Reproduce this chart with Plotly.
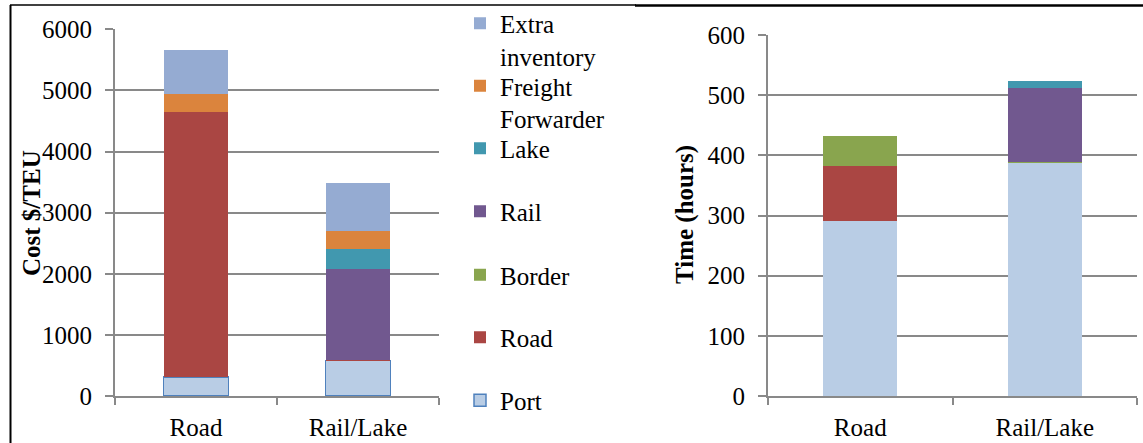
import plotly.graph_objects as go

categories = ["Road", "Rail/Lake"]

# Cost $/TEU (stack order bottom -> top)
cost_port = [315, 580]
cost_road = [4325, 8]
cost_border = [0, 0]
cost_rail = [0, 1498]
cost_lake = [0, 316]
cost_ff = [306, 295]
cost_extra = [709, 791]

# Time (hours)
time_port = [291, 388]
time_road = [91, 0]
time_border = [50, 1.5]
time_rail = [0, 123]
time_lake = [0, 11]

series_names = ["Port", "Road", "Border", "Rail", "Lake", "Freight Forwarder", "Extra inventory"]
legend_labels = ["Port", "Road", "Border", "Rail", "Lake", "Freight<br>Forwarder", "Extra<br>inventory"]
colors = {
    "Port": "#B9CDE5",
    "Road": "#AA4643",
    "Border": "#89A54E",
    "Rail": "#71588F",
    "Lake": "#4198AF",
    "Freight Forwarder": "#DB843D",
    "Extra inventory": "#95ABD2",
}
cost_values = [cost_port, cost_road, cost_border, cost_rail, cost_lake, cost_ff, cost_extra]
time_values = {"Port": time_port, "Road": time_road, "Border": time_border,
               "Rail": time_rail, "Lake": time_lake}

W, H = 1143, 443
FONT = "Liberation Serif"
GRID = "#898989"

# one legend box per entry so that entries sit on the reference's even slots
legend_ids = ["legend7", "legend6", "legend5", "legend4", "legend3", "legend2", "legend"]
legend_centers = [402, 339, 276.5, 213, 150, 87.5, 25]   # px from top, first-line centre

fig = go.Figure()

for name, lab, lid, vals in zip(series_names, legend_labels, legend_ids, cost_values):
    line = dict(color="#4F81BD", width=1.5) if name == "Port" else dict(width=0)
    fig.add_trace(go.Bar(x=categories, y=vals, name=lab, width=0.4,
                         marker=dict(color=colors[name], line=line),
                         xaxis="x", yaxis="y", showlegend=True, legend=lid))

for name in series_names:
    if name in time_values:
        fig.add_trace(go.Bar(x=categories, y=time_values[name], name=name, width=0.4,
                             marker=dict(color=colors[name], line=dict(width=0)),
                             xaxis="x2", yaxis="y2", showlegend=False))


def px_x(p):
    return p / W


def px_y(p):
    return 1 - p / H


def xaxis_style():
    return dict(showline=True, linecolor=GRID, linewidth=2,
                tickfont=dict(family=FONT, size=25, color="black"),
                ticks="outside", tickcolor=GRID, tickwidth=2, ticklen=7,
                tickson="boundaries", ticklabelstandoff=8, automargin=False)


def yaxis_style():
    return dict(showline=True, linecolor=GRID, linewidth=2,
                tickfont=dict(family=FONT, size=25, color="black"),
                ticks="outside", tickcolor=GRID, tickwidth=2, ticklen=8,
                showgrid=True, gridcolor=GRID, gridwidth=2, zeroline=False,
                ticklabelstandoff=8, automargin=False)


legend_font = dict(family=FONT, size=25, color="black")
legend_layout = {}
for lid, cy in zip(legend_ids, legend_centers):
    legend_layout[lid] = dict(x=px_x(460), xanchor="left", y=px_y(cy - 24.5), yanchor="top",
                              valign="top", font=legend_font, bgcolor="rgba(0,0,0,0)")

fig.update_layout(
    width=W, height=H,
    margin=dict(l=0, r=0, t=0, b=0, autoexpand=False),
    paper_bgcolor="white", plot_bgcolor="white",
    font=dict(family=FONT, color="black"),
    barmode="stack",
    showlegend=True,
    xaxis=dict(domain=[px_x(115), px_x(439)], anchor="y", **xaxis_style()),
    yaxis=dict(domain=[px_y(396), px_y(29.3)], anchor="x", range=[0, 6000],
               tickvals=[0, 1000, 2000, 3000, 4000, 5000, 6000], **yaxis_style()),
    xaxis2=dict(domain=[px_x(768), px_x(1137)], anchor="y2", **xaxis_style()),
    yaxis2=dict(domain=[px_y(396), px_y(35)], anchor="x2", range=[0, 600],
                tickvals=[0, 100, 200, 300, 400, 500, 600], **yaxis_style()),
    annotations=[
        dict(text="<b>Cost $/TEU</b>", textangle=-90, xref="paper", yref="paper",
             x=px_x(32), y=px_y(213), xanchor="center", yanchor="middle", showarrow=False,
             font=dict(family=FONT, size=25, color="black")),
        dict(text="<b>Time (hours)</b>", textangle=-90, xref="paper", yref="paper",
             x=px_x(685), y=px_y(215), xanchor="center", yanchor="middle", showarrow=False,
             font=dict(family=FONT, size=25, color="black")),
    ],
    shapes=[
        dict(type="line", xref="paper", yref="paper", x0=px_x(10.5), x1=px_x(10.5),
             y0=px_y(5), y1=0, line=dict(color="black", width=2)),
        dict(type="line", xref="paper", yref="paper", x0=px_x(10), x1=px_x(636),
             y0=px_y(5), y1=px_y(5), line=dict(color="black", width=1.5)),
        dict(type="line", xref="paper", yref="paper", x0=px_x(635), x1=1,
             y0=px_y(5.5), y1=px_y(5.5), line=dict(color="black", width=2.5)),
    ],
    **legend_layout,
)

fig.write_html("out.html", config={"displayModeBar": False},
               post_script="document.body.style.margin='0';")
